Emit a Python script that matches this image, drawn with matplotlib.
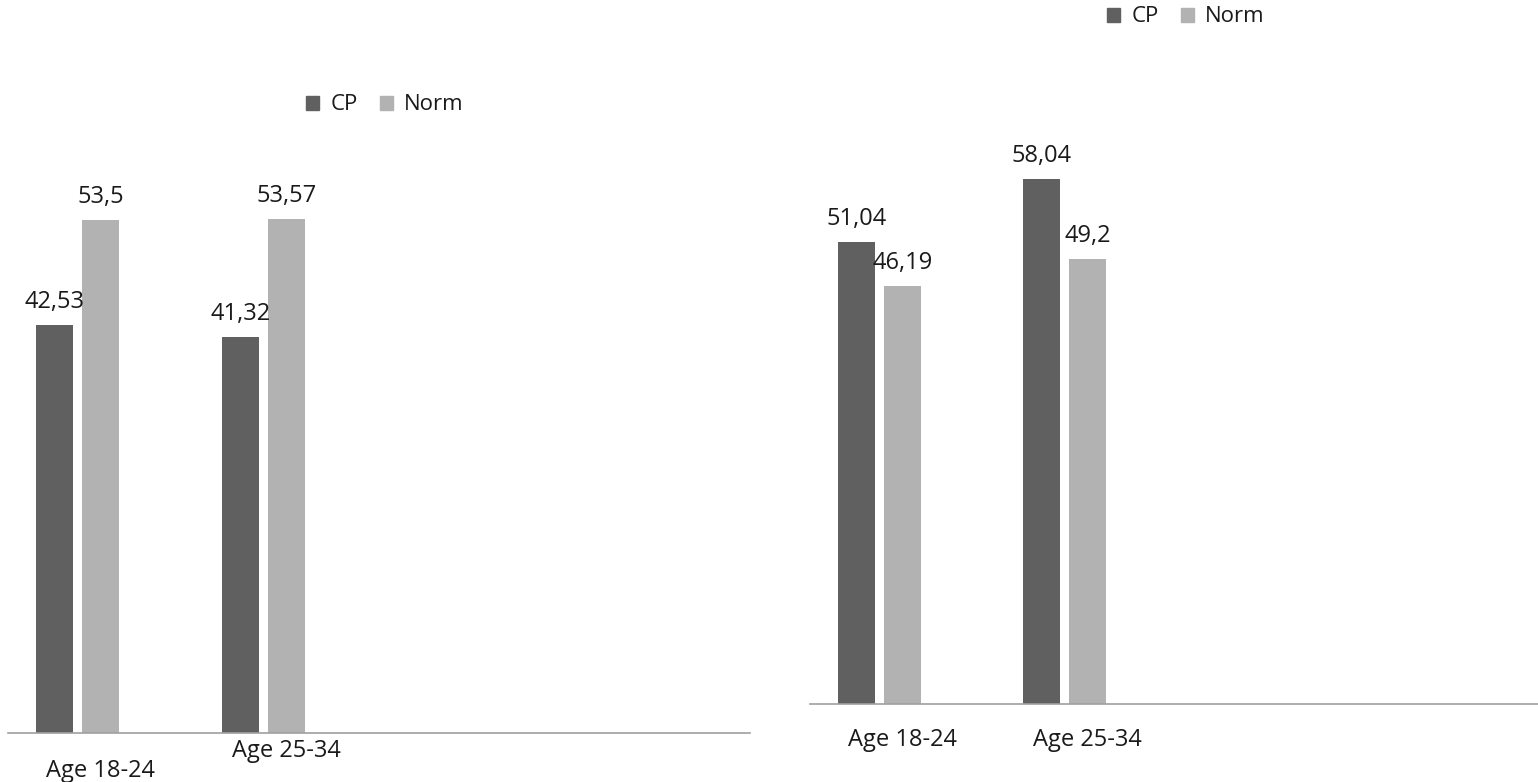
import matplotlib.pyplot as plt
from matplotlib.patches import Patch

# data for the two panels
categories = ["Age 18-24", "Age 25-34"]
series_names = ["CP", "Norm"]
left_cp = [42.53, 41.32]
left_norm = [53.5, 53.57]
right_cp = [51.04, 58.04]
right_norm = [46.19, 49.2]

CP_COLOR = "#606060"
NORM_COLOR = "#b2b2b2"
AXIS_COLOR = "#a0a0a0"
TEXT_COLOR = "#1a1a1a"

plt.rcParams["font.family"] = ["Open Sans", "DejaVu Sans"]

W, H = 1538, 782
fig = plt.figure(figsize=(W / 100, H / 100), dpi=100)


def px_axes(x0, y_base, width, height):
    # axes placed by pixel box (y measured from top of the image)
    return fig.add_axes([x0 / W, 1 - y_base / H, width / W, height / H])


def draw_panel(ax, cp, norm, px_per_unit, height_px, label_offsets):
    n_slots = 4
    ax.set_xlim(0, n_slots)
    ax.set_ylim(0, height_px / px_per_unit)
    width = 0.2
    step = 0.248
    xs = [i + 0.5 for i in range(len(categories))]
    b1 = ax.bar([x - step for x in xs], cp, width, color=CP_COLOR)
    b2 = ax.bar(xs, norm, width, color=NORM_COLOR)
    for bars, vals in ((b1, cp), (b2, norm)):
        for rect, v in zip(bars, vals):
            ax.annotate(f"{v:g}".replace(".", ","),
                        (rect.get_x() + rect.get_width() / 2, v),
                        xytext=(0, 8), textcoords="offset points",
                        ha="center", va="bottom", fontsize=17, color=TEXT_COLOR)
    for x, lab, off in zip(xs, categories, label_offsets):
        ax.annotate(lab, (x, 0), xytext=(0, -off), textcoords="offset pixels",
                    ha="center", va="center", fontsize=17, color=TEXT_COLOR,
                    annotation_clip=False)
    for s in ("top", "right", "left"):
        ax.spines[s].set_visible(False)
    ax.spines["bottom"].set_color(AXIS_COLOR)
    ax.spines["bottom"].set_linewidth(1.2)
    ax.set_xticks([])
    ax.set_yticks([])
    ax.patch.set_alpha(0)


# left panel
ax1 = px_axes(8, 733, 742, 633)
draw_panel(ax1, left_cp, left_norm, 9.59, 633, [38, 18])

# right panel (runs off the right edge like the original)
ax2 = px_axes(810, 704, 740, 604)
draw_panel(ax2, right_cp, right_norm, 9.05, 604, [36, 36])

handles = [Patch(color=CP_COLOR), Patch(color=NORM_COLOR)]
for cx, cy in ((385, 105), (1186, 17)):
    fig.legend(handles, series_names, loc="center",
               bbox_to_anchor=(cx / W, 1 - cy / H), ncol=2, frameon=False,
               handlelength=0.6, handleheight=0.6, handletextpad=0.5,
               columnspacing=1.0, fontsize=16, labelcolor=TEXT_COLOR)

fig.savefig("out.png", dpi=100)
